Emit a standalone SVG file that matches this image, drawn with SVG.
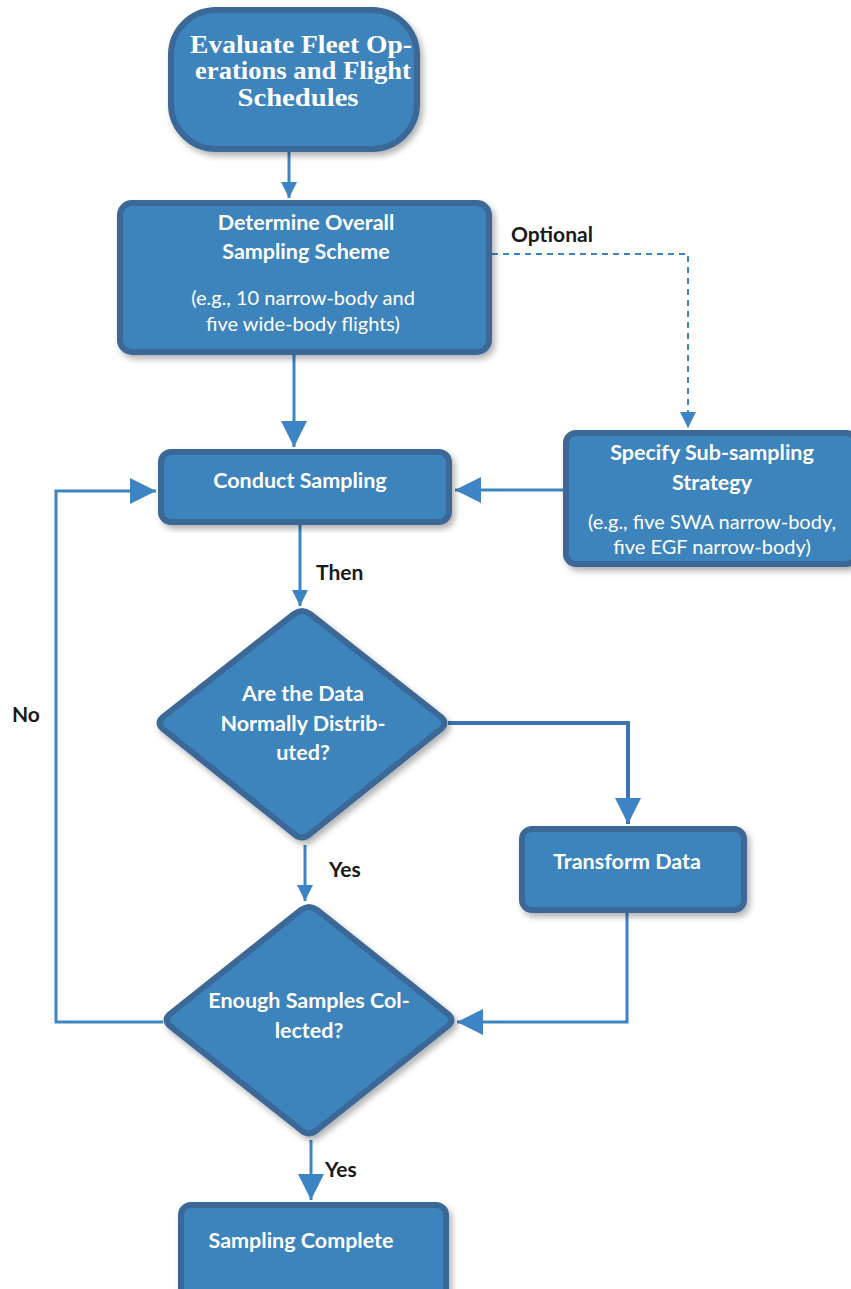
<svg xmlns="http://www.w3.org/2000/svg" width="851" height="1289" viewBox="0 0 851 1289">
<defs>
<style>
.node{fill:#3d84bd;stroke:#3a6797;stroke-width:6;filter:url(#sh)}
.t{font-family:Lato,"Open Sans",sans-serif;font-weight:bold;font-size:21.5px;fill:#ffffff;text-anchor:middle}
.s{font-family:Lato,"Open Sans",sans-serif;font-size:20px;fill:#ffffff;text-anchor:middle}
.serif{font-family:"Liberation Serif",serif;font-weight:bold;font-size:24.5px;fill:#ffffff;text-anchor:middle}
.lbl{font-family:Lato,"Open Sans",sans-serif;font-weight:bold;font-size:21px;fill:#1a1a1a}
.c{fill:none;stroke:#3d84c4;stroke-width:3}
.d{fill:none;stroke:#3d84c4;stroke-width:2;stroke-dasharray:6 5}
</style>
<filter id="sh" x="-10%" y="-10%" width="125%" height="125%">
<feDropShadow dx="3" dy="4" stdDeviation="3" flood-color="#000" flood-opacity="0.3"/>
</filter>
<marker id="a" markerWidth="16" markerHeight="16" viewBox="0 0 16 16" refX="16" refY="8" orient="auto" markerUnits="userSpaceOnUse">
<path d="M0,0 L16,8 L0,16 Z" fill="#3d84c4"/>
</marker>
<marker id="ab" markerWidth="26" markerHeight="26" viewBox="0 0 26 26" refX="26" refY="13" orient="auto" markerUnits="userSpaceOnUse">
<path d="M0,0 L26,13 L0,26 Z" fill="#3d84c4"/>
</marker>
</defs>

<g id="connectors">
<path class="c" d="M289,152 L289,198" marker-end="url(#a)"/>
<path class="c" d="M294,355 L294,447" marker-end="url(#ab)"/>
<path class="d" d="M492,254 L688,254 L688,428" marker-end="url(#a)"/>
<path class="c" d="M563,490 L455,490" marker-end="url(#ab)"/>
<path class="c" d="M300,525 L300,606" marker-end="url(#a)"/>
<path class="c" d="M448,723 L628,723 L628,824" marker-end="url(#ab)" style="stroke-width:4;stroke:#3b74b0"/>
<path class="c" d="M305,845 L305,901" marker-end="url(#a)"/>
<path class="c" d="M627,913 L627,1022 L457,1022" marker-end="url(#ab)"/>
<path class="c" d="M163,1022 L56,1022 L56,491 L156,491" marker-end="url(#ab)"/>
<path class="c" d="M311,1140 L311,1200" marker-end="url(#ab)"/>
</g>

<g id="labels">
<text class="lbl" x="511" y="242">Optional</text>
<text class="lbl" x="316" y="580">Then</text>
<text class="lbl" x="329" y="877">Yes</text>
<text class="lbl" x="325" y="1177">Yes</text>
<text class="lbl" x="12" y="722">No</text>
</g>

<g id="n1">
<rect class="node" x="171" y="10" width="246" height="139" rx="45"/>
<text class="serif" x="301" y="53" textLength="222" lengthAdjust="spacingAndGlyphs">Evaluate Fleet Op-</text>
<text class="serif" x="303" y="79" textLength="216" lengthAdjust="spacingAndGlyphs">erations and Flight</text>
<text class="serif" x="298" y="106" textLength="121" lengthAdjust="spacingAndGlyphs">Schedules</text>
</g>

<g id="n2">
<rect class="node" x="120" y="203" width="369" height="149" rx="12"/>
<text class="t" x="306" y="230">Determine Overall</text>
<text class="t" x="306" y="259">Sampling Scheme</text>
<text class="s" x="303" y="305">(e.g., 10 narrow-body and</text>
<text class="s" x="303" y="331">five wide-body flights)</text>
</g>

<g id="n3">
<rect class="node" x="161" y="452" width="288" height="70" rx="10"/>
<text class="t" x="300" y="488">Conduct Sampling</text>
</g>

<g id="n4">
<rect class="node" x="566" y="433" width="290" height="131" rx="10"/>
<text class="t" x="712" y="460">Specify Sub-sampling</text>
<text class="t" x="712" y="490">Strategy</text>
<text class="s" x="712" y="529">(e.g., five SWA narrow-body,</text>
<text class="s" x="712" y="554">five EGF narrow-body)</text>
</g>

<g id="n5">
<path class="node" d="M294,614 Q302,608 310,614 L441,717 Q448,723 441,729 L310,834 Q302,841 294,834 L163,729 Q156,723 163,717 Z"/>
<text class="t" x="303" y="701">Are the Data</text>
<text class="t" x="303" y="731">Normally Distrib-</text>
<text class="t" x="303" y="760">uted?</text>
</g>

<g id="n6">
<rect class="node" x="522" y="829" width="222" height="81" rx="10"/>
<text class="t" x="627" y="869">Transform Data</text>
</g>

<g id="n7">
<path class="node" d="M301,910 Q309,904 317,910 L448,1014 Q455,1020 448,1026 L317,1130 Q309,1137 301,1130 L170,1026 Q163,1020 170,1014 Z"/>
<text class="t" x="309" y="1008">Enough Samples Col-</text>
<text class="t" x="309" y="1038">lected?</text>
</g>

<g id="n8">
<rect class="node" x="181" y="1205" width="265" height="100" rx="10"/>
<text class="t" x="301" y="1248">Sampling Complete</text>
</g>
</svg>
